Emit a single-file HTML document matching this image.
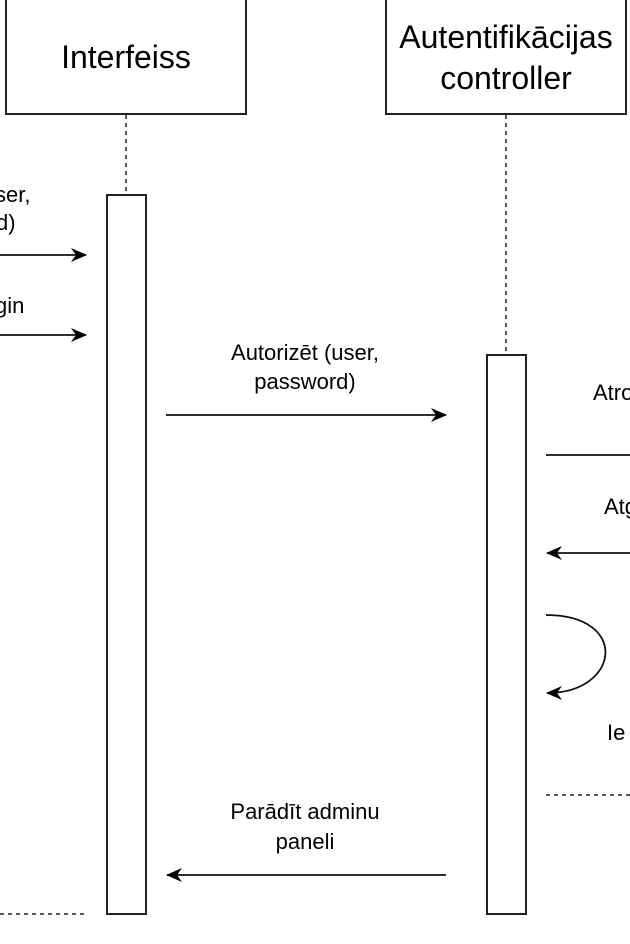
<!DOCTYPE html>
<html><head><meta charset="utf-8"><style>
html,body{margin:0;padding:0;background:#fff;width:630px;height:944px;overflow:hidden}
svg{display:block}
text{font-family:"Liberation Sans",sans-serif;fill:#000}
</style></head><body>
<svg width="630" height="944" viewBox="0 0 630 944" xmlns="http://www.w3.org/2000/svg">
<defs><marker id="a" markerWidth="16" markerHeight="14" refX="15" refY="7" orient="auto" markerUnits="userSpaceOnUse"><path d="M0,0 L16,7 L0,14 L5,7 Z" fill="#000"/></marker></defs>
<g stroke="#222" stroke-width="2" fill="#fff">
<rect x="6" y="-10" width="240" height="124"/>
<rect x="386" y="-10" width="240" height="124"/>
</g>
<g stroke="#222" stroke-width="1.5" stroke-dasharray="4,4">
<line x1="126" y1="115" x2="126" y2="195"/>
<line x1="506" y1="115" x2="506" y2="355"/>
<line x1="546" y1="795" x2="630" y2="795"/>
<line x1="0" y1="914" x2="86" y2="914"/>
</g>
<g stroke="#222" stroke-width="2" fill="#fff">
<rect x="107" y="195" width="39" height="719"/>
<rect x="487" y="355" width="39" height="559"/>
</g>
<g stroke="#111" stroke-width="1.8" fill="none">
<line x1="0" y1="255" x2="86" y2="255" marker-end="url(#a)"/>
<line x1="0" y1="335" x2="86" y2="335" marker-end="url(#a)"/>
<line x1="166" y1="415" x2="446" y2="415" marker-end="url(#a)"/>
<line x1="546" y1="455" x2="630" y2="455"/>
<line x1="630" y1="553" x2="547" y2="553" marker-end="url(#a)"/>
<path d="M546,615 C630,615 620,693 547,693" marker-end="url(#a)"/>
<line x1="446" y1="875" x2="167" y2="875" marker-end="url(#a)"/>
</g>
<g font-size="32" text-anchor="middle">
<text x="126" y="68">Interfeiss</text>
<text x="506" y="48">Autentifikācijas</text>
<text x="506" y="89">controller</text>
</g>
<g font-size="22">
<text x="-5" y="202">ser,</text>
<text x="-4" y="230">d)</text>
<text x="-5" y="313">gin</text>
<text x="305" y="360" text-anchor="middle">Autorizēt (user,</text>
<text x="305" y="389" text-anchor="middle">password)</text>
<text x="593" y="400">Atro</text>
<text x="604" y="514">Atg</text>
<text x="607" y="740">Ie</text>
<text x="305" y="819" text-anchor="middle">Parādīt adminu</text>
<text x="305" y="849" text-anchor="middle">paneli</text>
</g>
</svg>
</body></html>
